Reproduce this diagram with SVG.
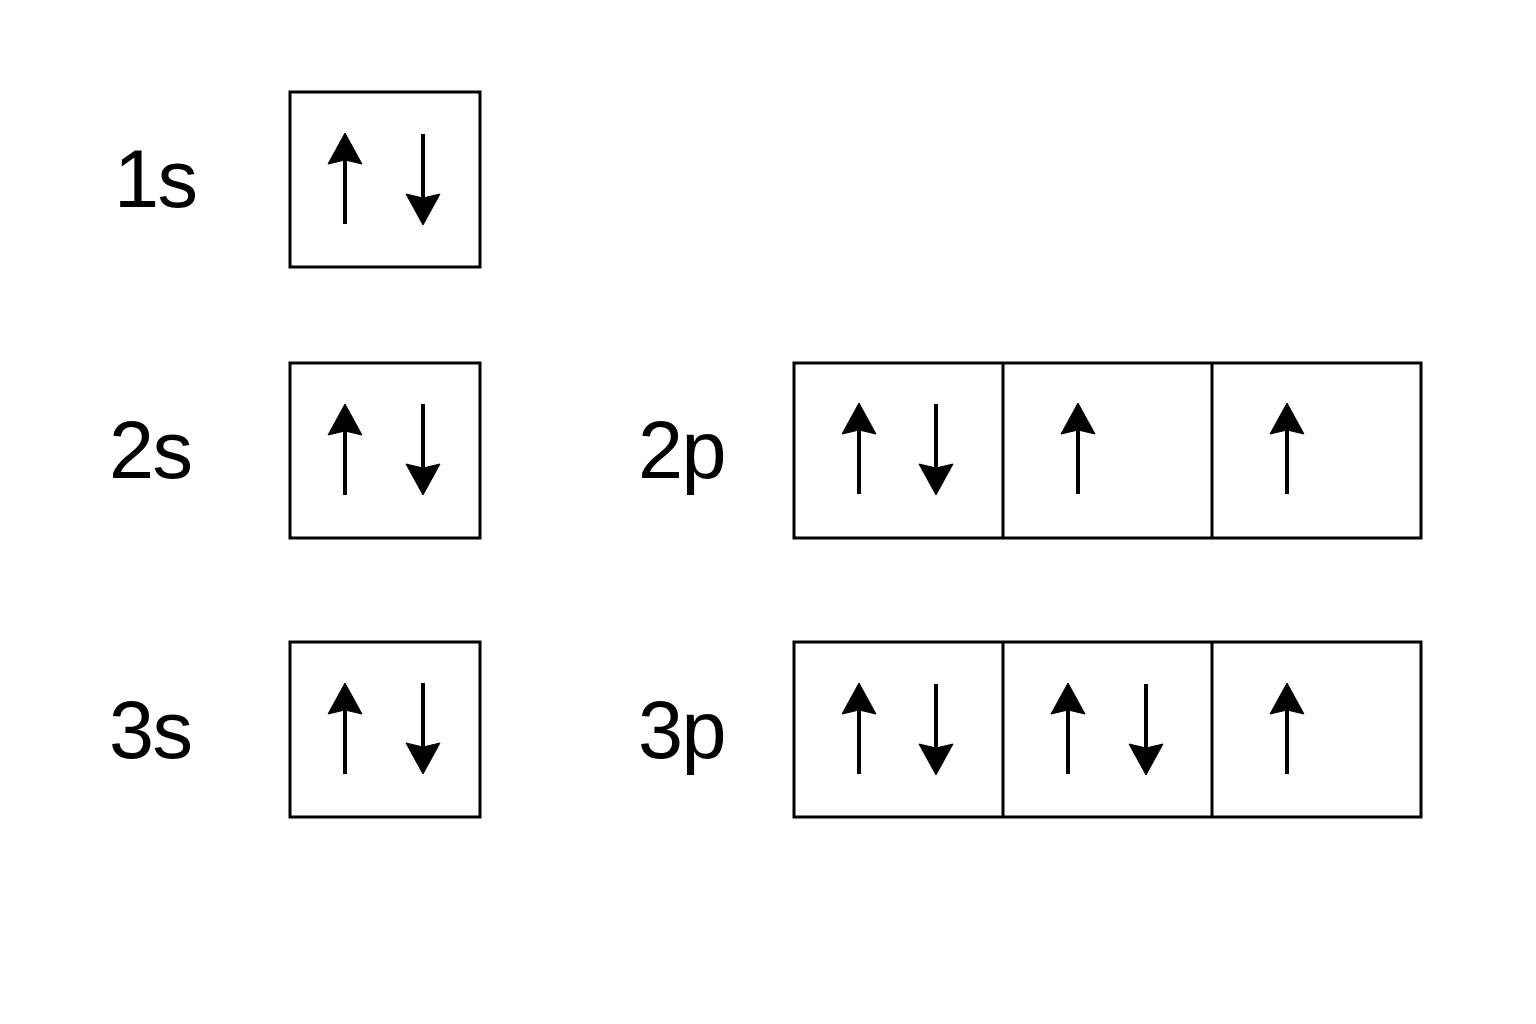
<svg xmlns="http://www.w3.org/2000/svg" xmlns:xlink="http://www.w3.org/1999/xlink" width="1536" height="1024" viewBox="0 0 1536 1024">
  <style>
    .box { fill: none; stroke: #000; stroke-width: 3; }
    .lbl { font-family: "Liberation Sans", Arial, sans-serif; font-size: 81px; letter-spacing: -1.5px; fill: #000; }
  </style>
  <defs>
    <g id="up">
      <line x1="0" y1="24" x2="0" y2="91" stroke="#000" stroke-width="4"/>
      <path d="M0,0 L17,31 L0,27 L-17,31 Z" fill="#000" stroke="#000" stroke-width="1" stroke-linejoin="round"/>
    </g>
  </defs>
  <rect width="1536" height="1024" fill="#fff"/>

  <g id="orb-1s">
    <text class="lbl" x="114" y="207">1s</text>
    <rect class="box" x="290" y="92" width="190" height="175"/>
    <use xlink:href="#up" href="#up" transform="translate(345,133)"/>
    <use xlink:href="#up" href="#up" transform="translate(423,225) rotate(180)"/>
  </g>

  <g id="orb-2s">
    <text class="lbl" x="109" y="478">2s</text>
    <rect class="box" x="290" y="363" width="190" height="175"/>
    <use xlink:href="#up" href="#up" transform="translate(345,404)"/>
    <use xlink:href="#up" href="#up" transform="translate(423,495) rotate(180)"/>
  </g>

  <g id="orb-3s">
    <text class="lbl" x="109" y="758">3s</text>
    <rect class="box" x="290" y="642" width="190" height="175"/>
    <use xlink:href="#up" href="#up" transform="translate(345,683)"/>
    <use xlink:href="#up" href="#up" transform="translate(423,774) rotate(180)"/>
  </g>

  <g id="orb-2p">
    <text class="lbl" x="638" y="478">2p</text>
    <rect class="box" x="794" y="363" width="627" height="175"/>
    <line x1="1003" y1="363" x2="1003" y2="538" stroke="#000" stroke-width="3"/>
    <line x1="1212" y1="363" x2="1212" y2="538" stroke="#000" stroke-width="3"/>
    <use xlink:href="#up" href="#up" transform="translate(859,403)"/>
    <use xlink:href="#up" href="#up" transform="translate(936,495) rotate(180)"/>
    <use xlink:href="#up" href="#up" transform="translate(1078,403)"/>
    <use xlink:href="#up" href="#up" transform="translate(1287,403)"/>
  </g>

  <g id="orb-3p">
    <text class="lbl" x="638" y="758">3p</text>
    <rect class="box" x="794" y="642" width="627" height="175"/>
    <line x1="1003" y1="642" x2="1003" y2="817" stroke="#000" stroke-width="3"/>
    <line x1="1212" y1="642" x2="1212" y2="817" stroke="#000" stroke-width="3"/>
    <use xlink:href="#up" href="#up" transform="translate(859,683)"/>
    <use xlink:href="#up" href="#up" transform="translate(936,775) rotate(180)"/>
    <use xlink:href="#up" href="#up" transform="translate(1068,683)"/>
    <use xlink:href="#up" href="#up" transform="translate(1146,775) rotate(180)"/>
    <use xlink:href="#up" href="#up" transform="translate(1287,683)"/>
  </g>
</svg>
